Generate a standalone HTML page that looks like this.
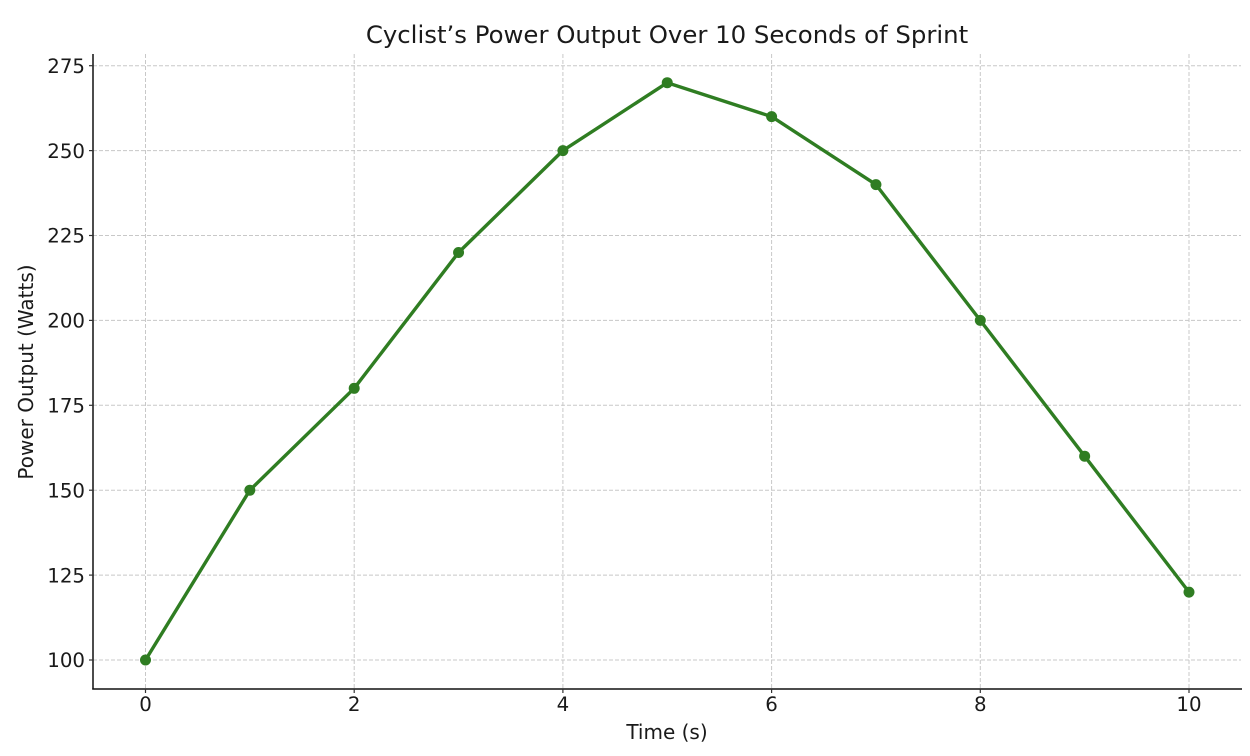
<!DOCTYPE html>
<html>
<head>
<meta charset="utf-8">
<style>
html,body{margin:0;padding:0;background:#fff;}
svg{display:block;}
text{font-family:"DejaVu Sans","Liberation Sans",sans-serif;fill:#1a1a1a;}
</style>
</head>
<body>
<svg width="1250" height="756" viewBox="0 0 1250 756" xmlns="http://www.w3.org/2000/svg">
<rect width="1250" height="756" fill="#fff"/>
<!-- grid -->
<g stroke="#c8c8c8" stroke-width="1" stroke-dasharray="4,2" fill="none">
<line x1="93" x2="1241" y1="660" y2="660"/>
<line x1="93" x2="1241" y1="575.1" y2="575.1"/>
<line x1="93" x2="1241" y1="490.2" y2="490.2"/>
<line x1="93" x2="1241" y1="405.3" y2="405.3"/>
<line x1="93" x2="1241" y1="320.4" y2="320.4"/>
<line x1="93" x2="1241" y1="235.5" y2="235.5"/>
<line x1="93" x2="1241" y1="150.6" y2="150.6"/>
<line x1="93" x2="1241" y1="65.7" y2="65.7"/>
<line y1="54" y2="689" x1="145.5" x2="145.5"/>
<line y1="54" y2="689" x1="354.2" x2="354.2"/>
<line y1="54" y2="689" x1="562.9" x2="562.9"/>
<line y1="54" y2="689" x1="771.6" x2="771.6"/>
<line y1="54" y2="689" x1="980.3" x2="980.3"/>
<line y1="54" y2="689" x1="1189" x2="1189"/>
</g>
<!-- spines -->
<g stroke="#111" stroke-width="1.5" fill="none">
<line x1="93" y1="54" x2="93" y2="689.5"/>
<line x1="92.25" y1="689" x2="1242" y2="689"/>
</g>
<!-- ticks -->
<g stroke="#333" stroke-width="1.2">
<line x1="89" x2="93" y1="660" y2="660"/>
<line x1="89" x2="93" y1="575.1" y2="575.1"/>
<line x1="89" x2="93" y1="490.2" y2="490.2"/>
<line x1="89" x2="93" y1="405.3" y2="405.3"/>
<line x1="89" x2="93" y1="320.4" y2="320.4"/>
<line x1="89" x2="93" y1="235.5" y2="235.5"/>
<line x1="89" x2="93" y1="150.6" y2="150.6"/>
<line x1="89" x2="93" y1="65.7" y2="65.7"/>
<line y1="689" y2="693" x1="145.5" x2="145.5"/>
<line y1="689" y2="693" x1="354.2" x2="354.2"/>
<line y1="689" y2="693" x1="562.9" x2="562.9"/>
<line y1="689" y2="693" x1="771.6" x2="771.6"/>
<line y1="689" y2="693" x1="980.3" x2="980.3"/>
<line y1="689" y2="693" x1="1189" x2="1189"/>
</g>
<!-- y tick labels -->
<g font-size="19.8" text-anchor="end">
<text x="85" y="667.2">100</text>
<text x="85" y="582.3">125</text>
<text x="85" y="497.4">150</text>
<text x="85" y="412.5">175</text>
<text x="85" y="327.6">200</text>
<text x="85" y="242.7">225</text>
<text x="85" y="157.8">250</text>
<text x="85" y="72.9">275</text>
</g>
<!-- x tick labels -->
<g font-size="19.8" text-anchor="middle">
<text x="145.5" y="711">0</text>
<text x="354.2" y="711">2</text>
<text x="562.9" y="711">4</text>
<text x="771.6" y="711">6</text>
<text x="980.3" y="711">8</text>
<text x="1189" y="711">10</text>
</g>
<!-- axis labels -->
<text x="667" y="739" font-size="20" text-anchor="middle">Time (s)</text>
<text transform="translate(33,372) rotate(-90)" font-size="20" text-anchor="middle">Power Output (Watts)</text>
<!-- title -->
<text x="667" y="43" font-size="24.4" text-anchor="middle">Cyclist’s Power Output Over 10 Seconds of Sprint</text>
<!-- series -->
<polyline fill="none" stroke="#2f7d22" stroke-width="3.4" stroke-linejoin="round" points="145.5,660 249.85,490.2 354.2,388.3 458.55,252.5 562.9,150.6 667.25,82.7 771.6,116.6 875.95,184.6 980.3,320.4 1084.65,456.2 1189,592.1"/>
<g fill="#2f7d22">
<circle cx="145.5" cy="660" r="5.5"/>
<circle cx="249.85" cy="490.2" r="5.5"/>
<circle cx="354.2" cy="388.3" r="5.5"/>
<circle cx="458.55" cy="252.5" r="5.5"/>
<circle cx="562.9" cy="150.6" r="5.5"/>
<circle cx="667.25" cy="82.7" r="5.5"/>
<circle cx="771.6" cy="116.6" r="5.5"/>
<circle cx="875.95" cy="184.6" r="5.5"/>
<circle cx="980.3" cy="320.4" r="5.5"/>
<circle cx="1084.65" cy="456.2" r="5.5"/>
<circle cx="1189" cy="592.1" r="5.5"/>
</g>
</svg>
</body>
</html>
